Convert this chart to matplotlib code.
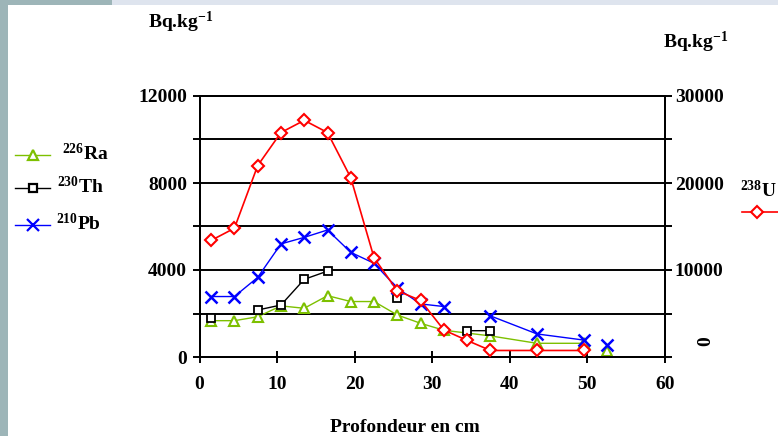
import matplotlib
matplotlib.use('Agg')
import numpy as np
import matplotlib.pyplot as plt
from matplotlib.lines import Line2D
from matplotlib.patches import Rectangle

plt.rcParams['font.family'] = ['Liberation Serif', 'DejaVu Serif']
plt.rcParams['font.weight'] = 'bold'
plt.rcParams['mathtext.fontset'] = 'custom'
plt.rcParams['mathtext.rm'] = 'Liberation Serif:bold'
plt.rcParams['mathtext.bf'] = 'Liberation Serif:bold'
plt.rcParams['mathtext.it'] = 'Liberation Serif:bold'

# depth (cm) and activities (Bq/kg), NaN = no sample (line break)
depth = [1.5, 4.5, 7.5, 10.5, 13.5, 16.5, 19.5, 22.5, 25.5, 28.5, 31.5, 34.5, 37.5, 43.5, 49.5]
u238 = [13400, 14800, 22000, 25800, 27200, 25800, 20600, 11400, 7600, 6500, 3100, 1900, 750, 750, 750]
pb210 = [2780, 2780, 3660, 5200, 5500, 5840, 4810, 4310, 3160, 2440, 2320, np.nan, 1890, 1060, 780]
th230 = [1780, np.nan, 2160, 2390, 3570, 3950, np.nan, np.nan, 2700, np.nan, np.nan, 1210, 1210, np.nan, np.nan]
depth_ra = [1.5, 4.5, 7.5, 10.5, 13.5, 16.5, 19.5, 22.5, 25.5, 28.5, 31.5, 37.5, 43.5, 49.5]
ra226 = [1670, 1670, 1850, 2350, 2240, 2820, 2550, 2550, 1930, 1550, 1230, 970, 630, 630]
# last isolated samples
depth_last = [52.5]
pb210_last = [550]
ra226_last = [290]

green = '#7DC000'
fs = 14

fig = plt.figure(figsize=(7.78, 4.36), dpi=100)
fig.patch.set_facecolor('white')
# slide frame
fig.add_artist(Rectangle((0, 0), 8 / 778, 1, transform=fig.transFigure, color='#9DB5B8', lw=0))
fig.add_artist(Rectangle((0, 1 - 5 / 436), 112 / 778, 5 / 436, transform=fig.transFigure, color='#9DB5B8', lw=0))
fig.add_artist(Rectangle((112 / 778, 1 - 5 / 436), 1, 5 / 436, transform=fig.transFigure, color='#DEE4EE', lw=0))

ax = fig.add_axes([199.5 / 778, 1 - 357 / 436, (665 - 199.5) / 778, (357 - 96) / 436])
ax2 = ax.twinx()

ax.set_xlim(0, 60)
ax.set_ylim(0, 12000)
ax2.set_ylim(0, 30000)

for y in range(2000, 12001, 2000):
    ax.axhline(y, color='black', lw=1.4, zorder=1)

ax.plot(depth_ra, ra226, color=green, lw=1, marker='^', ms=7.5, mfc='white', mec=green, mew=1.5, zorder=3)
ax.plot(depth_last, ra226_last, color=green, lw=1, marker='^', ms=7.5, mfc='white', mec=green, mew=1.5, zorder=3)
ax.plot(depth, th230, color='black', lw=1, marker='s', ms=5.5, mfc='white', mec='black', mew=1.3, zorder=4)
ax.plot(depth, pb210, color='#0000FF', lw=1, marker='x', ms=9, mew=1.8, zorder=5)
ax.plot(depth_last, pb210_last, color='#0000FF', lw=1, marker='x', ms=9, mew=1.8, zorder=5)
ax2.plot(depth, u238, color='#FF0000', lw=1.2, marker='D', ms=6.5, mfc='white', mec='#FF0000', mew=1.5, zorder=6)

ax.set_xticks(range(0, 61, 10))
ax.set_yticks(range(0, 12001, 2000))
ax.set_yticklabels(['0', '', '4000', '', '8000', '', '12000'])
ax2.set_yticks(range(0, 30001, 5000))
ax2.set_yticklabels(['', '', '10000', '', '20000', '', '30000'])
ax.tick_params(axis='x', direction='inout', length=8, width=1.4, labelsize=fs, pad=10)
ax.tick_params(axis='y', direction='out', length=5, width=1.4, labelsize=fs, pad=4)
ax2.tick_params(axis='y', direction='out', length=5, width=1.4, labelsize=fs, pad=2)
for a in (ax, ax2):
    for s in a.spines.values():
        s.set_linewidth(1.4)
        s.set_color('black')

fig.text(405 / 778, 1 - 427 / 436, 'Profondeur en cm', fontsize=fs, va='center', ha='center')

fig.text(148 / 778, 1 - 22 / 436, 'Bq.kg$^{-1}$', fontsize=fs, va='center', ha='left')
fig.text(663 / 778, 1 - 42 / 436, 'Bq.kg$^{-1}$', fontsize=fs, va='center', ha='left')
fig.text(706 / 778, 1 - 341 / 436, '0', fontsize=fs, va='center', ha='center', rotation=90)

# left legend
entries = [
    (155, green, '^', 7.5, 'white', r'$^{226}$Ra', 62),
    (188, 'black', 's', 5.5, 'white', r'$^{230}$Th', 57),
    (225, '#0000FF', 'x', 9, None, r'$^{210}$Pb', 56),
]
for yy, c, m, ms, mfc, lab, xl in entries:
    yf = 1 - yy / 436
    kw = dict(mfc=mfc) if mfc else {}
    fig.add_artist(Line2D([15 / 778, 50 / 778], [yf, yf], transform=fig.transFigure, color=c, lw=1))
    fig.add_artist(Line2D([33 / 778], [yf], transform=fig.transFigure, color=c, marker=m, ms=ms,
                          mec=c, mew=1.6, **kw))
    fig.text(xl / 778, yf + 2 / 436, lab, fontsize=fs, va='center', ha='left')

# right legend (U-238)
fig.text(740 / 778, 1 - 190 / 436, r'$^{238}$U', fontsize=fs, va='center', ha='left')
yf = 1 - 212 / 436
fig.add_artist(Line2D([742 / 778, 1.0], [yf, yf], transform=fig.transFigure, color='#FF0000', lw=1.2))
fig.add_artist(Line2D([757 / 778], [yf], transform=fig.transFigure, color='#FF0000', marker='D', ms=6.5,
                      mfc='white', mec='#FF0000', mew=1.5))

fig.savefig('out.png', dpi=100)
